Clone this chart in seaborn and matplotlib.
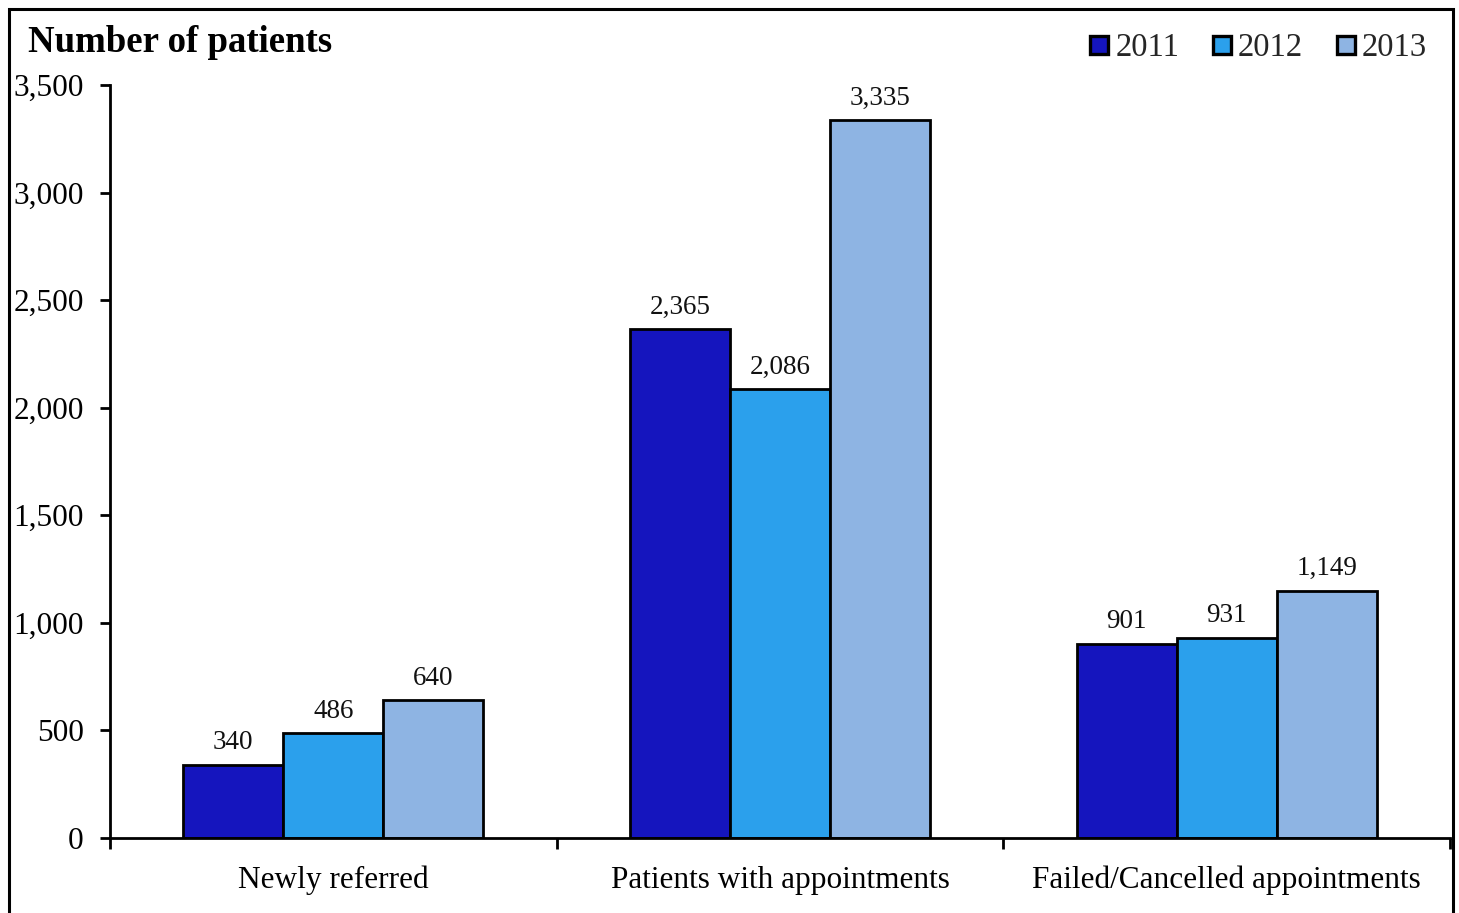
import matplotlib
matplotlib.use("Agg")
import matplotlib.pyplot as plt
import seaborn as sns
import pandas as pd
from matplotlib.lines import Line2D
from matplotlib.ticker import FuncFormatter, FixedLocator

categories = ["Newly referred", "Patients with appointments", "Failed/Cancelled appointments"]
years = ["2011", "2012", "2013"]
values_2011 = [340, 2365, 901]
values_2012 = [486, 2086, 931]
values_2013 = [640, 3335, 1149]
colors = ["#1515BE", "#2BA0EC", "#8EB4E3"]

rows = []
for yr, vals in zip(years, [values_2011, values_2012, values_2013]):
    for c, v in zip(categories, vals):
        rows.append({"category": c, "year": yr, "value": v})
df = pd.DataFrame(rows)

sns.set_theme(style="white")
plt.rcParams["font.family"] = ["Liberation Serif", "DejaVu Serif"]

fig = plt.figure(figsize=(14.59, 9.13), dpi=100)
ax = fig.add_axes([110/1459, 1-838/913, (1450-110)/1459, (838-85)/913])

sns.barplot(data=df, x="category", y="value", hue="year", order=categories,
            hue_order=years, palette=colors, width=0.672, edgecolor="black",
            linewidth=2.0, saturation=1, ax=ax, legend=False)

for cont in ax.containers:
    ax.bar_label(cont, labels=[f"{int(v):,}" for v in cont.datavalues],
                 padding=7, fontsize=19.5, color="#111111")

ax.set_xlim(-0.5, 2.5)
ax.set_ylim(0, 3500)
ax.set_yticks(range(0, 3501, 500))
ax.yaxis.set_major_formatter(FuncFormatter(lambda v, p: f"{int(v):,}"))
ax.set_xlabel("")
ax.set_ylabel("")

for s in ["top", "right"]:
    ax.spines[s].set_visible(False)
for s in ["left", "bottom"]:
    ax.spines[s].set_linewidth(2.0)
    ax.spines[s].set_color("black")

ax.tick_params(axis="y", which="major", direction="out", length=7, width=2,
               labelsize=22.5, pad=12, left=True, colors="black")
ax.tick_params(axis="x", which="major", length=0, labelsize=22.5, pad=20, colors="black")
ax.xaxis.set_minor_locator(FixedLocator([-0.5, 0.5, 1.5, 2.5]))
ax.tick_params(axis="x", which="minor", direction="out", length=8, width=2,
               bottom=True, color="black")

fig.text(28/1459, 1-42/913, "Number of patients", fontsize=26.5, fontweight="bold",
         ha="left", va="center", color="black")

handles = [Line2D([0], [0], marker="s", linestyle="none", markersize=13,
                  markerfacecolor=c, markeredgecolor="black", markeredgewidth=2.4)
           for c in colors]
fig.legend(handles, years, loc="center right", bbox_to_anchor=(1427/1459, 1-48/913),
           ncol=3, frameon=False, fontsize=23.5, handlelength=0.6, handletextpad=0.2,
           columnspacing=1.0, borderaxespad=0, borderpad=0)

# figure border
border = plt.Rectangle((9/1459, -0.02), (1453-9)/1459, 1-9/913 + 0.02,
                       transform=fig.transFigure, fill=False, edgecolor="black",
                       linewidth=2.2)
fig.patches.append(border)

fig.savefig("out.png", dpi=100, facecolor="white")
